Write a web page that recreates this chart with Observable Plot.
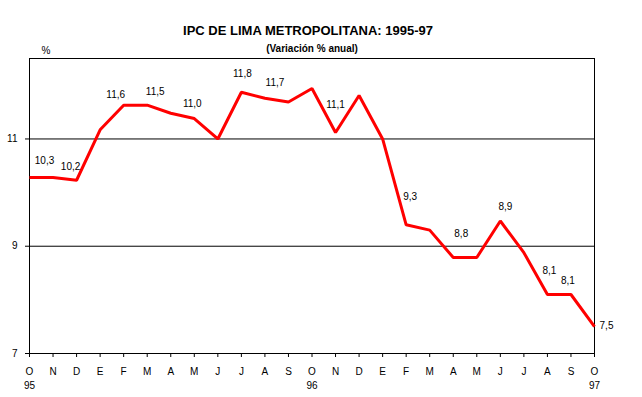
<!DOCTYPE html>
<html>
<head>
<meta charset="utf-8">
<script src="https://cdn.jsdelivr.net/npm/d3@7"></script>
<script src="https://cdn.jsdelivr.net/npm/@observablehq/plot@0.6"></script>
<style>
  html, body { margin: 0; padding: 0; background: #fff; }
  #chart svg { display: block; }
</style>
</head>
<body>
<div id="chart"></div>
<script>
const title = "IPC DE LIMA METROPOLITANA: 1995-97";
const subtitle = "(Variación % anual)";
const unitLabel = "%";

// Months from Oct 1995 to Oct 1997
const months = ["O","N","D","E","F","M","A","M","J","J","A","S","O","N","D","E","F","M","A","M","J","J","A","S","O"];
const yearLabels = {0: "95", 12: "96", 24: "97"};
const values = [10.28,10.28,10.23,11.17,11.63,11.63,11.48,11.38,11.0,11.87,11.76,11.69,11.94,11.12,11.81,11.0,9.40,9.30,8.79,8.79,9.47,8.88,8.10,8.10,7.50];

// Data labels shown on the chart
const labelIndex = [0, 2, 4, 5, 7, 9, 10, 13, 16, 18, 20, 22, 23, 24];
const labelText = ["10,3","10,2","11,6","11,5","11,0","11,8","11,7","11,1","9,3","8,8","8,9","8,1","8,1","7,5"];
const yTicks = [7, 9, 11];
const gridValues = [9, 11];

// label placement offsets (styling)
const labelDx = [15, -6, -8, 8, -2, 1, 10, 0, 4, 8, 5, 2, -3, 12];
const labelDy = [-17, -13, -10, -13, -15, -18, -15, -28, -28, -24, -14, -24, -14, -1];

const series = months.map((m, i) => ({i, v: values[i]}));
const labels = labelIndex.map((idx, k) => ({i: idx, v: values[idx], t: labelText[k], dx: labelDx[k], dy: labelDy[k]}));

const font = "'Liberation Sans', Arial, Helvetica, sans-serif";

const labelMarks = labels.map(d => Plot.text([d], {x: "i", y: "v", text: "t", dx: d.dx, dy: d.dy, fontSize: 10, fill: "black"}));

const chart = Plot.plot({
  width: 642,
  height: 397,
  marginLeft: 29,
  marginRight: 48,
  marginTop: 58,
  marginBottom: 44,
  style: {fontFamily: font, background: "white", color: "black"},
  x: {domain: [0, 24], axis: null},
  y: {domain: [7, 12.5], axis: null},
  marks: [
    Plot.ruleY(gridValues, {stroke: "black", strokeWidth: 1}),
    Plot.frame({stroke: "black", strokeWidth: 1}),
    Plot.axisY({ticks: yTicks, tickSize: 4, tickPadding: 8, fontSize: 10, tickFormat: d => String(d), label: null, stroke: "black"}),
    Plot.axisX({ticks: d3.range(months.length), tickSize: 4, tickPadding: 8, fontSize: 10, lineHeight: 1.4,
      tickFormat: i => months[i] + (yearLabels[i] ? "\n" + yearLabels[i] : ""), label: null, stroke: "black"}),
    Plot.line(series, {x: "i", y: "v", stroke: "#ff0000", strokeWidth: 3, strokeLinejoin: "miter", strokeLinecap: "butt"}),
    ...labelMarks,
    Plot.text([title], {frameAnchor: "top", dx: -4, dy: -33, fontSize: 13, fontWeight: "bold", fill: "black"}),
    Plot.text([subtitle], {frameAnchor: "top", dx: 0, dy: -14, fontSize: 10, fontWeight: "bold", fill: "black"}),
    Plot.text([unitLabel], {frameAnchor: "top-left", dx: 12, dy: -12, fontSize: 10, fill: "black"})
  ]
});

document.getElementById("chart").appendChild(chart);
</script>
</body>
</html>
